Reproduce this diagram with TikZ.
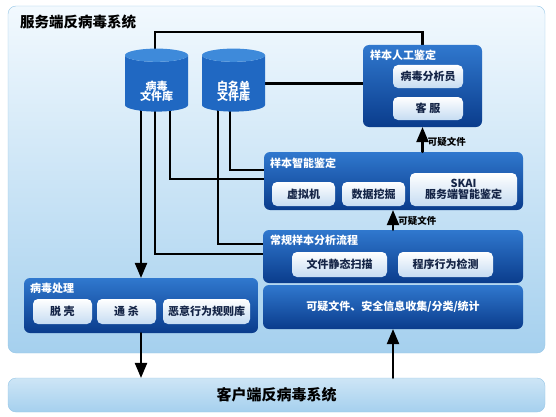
\documentclass[tikz,border=0pt]{standalone}
\usepackage{fontspec}
\setmainfont{Noto Sans CJK SC}
\usepackage{tikz}
\usetikzlibrary{shapes,arrows}
\pgfdeclarelayer{bg}
\pgfdeclarelayer{lines}
\pgfsetlayers{bg,lines,main}
\definecolor{srvtop}{RGB}{242,249,254}
\definecolor{srvbot}{RGB}{165,208,238}
\definecolor{srvline}{RGB}{150,198,230}
\definecolor{boxtop}{RGB}{48,120,206}
\definecolor{boxbot}{RGB}{10,60,140}
\definecolor{itembot}{RGB}{198,220,242}
\definecolor{itemtext}{RGB}{20,36,70}
\definecolor{cylbody}{RGB}{32,104,194}
\definecolor{cylend}{RGB}{62,138,218}
\begin{document}
\begin{tikzpicture}[line cap=round,line join=round,>=triangle 45,x=1pt,y=1pt,
	panel/.style={rounded corners=6pt,top color=boxtop,bottom color=boxbot,inner sep=0pt,text=white,font=\fontsize{11}{13}\selectfont\bfseries},
	item/.style={rounded corners=5pt,top color=white,bottom color=itembot,text=itemtext,inner sep=0pt,align=center,font=\fontsize{11}{13}\selectfont\bfseries},
	head/.style={anchor=west,inner sep=0pt,text=white,font=\fontsize{11}{13}\selectfont\bfseries},
	db/.style={cylinder,shape border rotate=90,aspect=0.4,minimum width=63pt,minimum height=63pt,inner sep=0pt,cylinder uses custom fill,cylinder body fill=cylbody,cylinder end fill=cylend,text=white,font=\fontsize{11}{12}\selectfont\bfseries},
	link/.style={line width=2.5pt,color=black},
	flow/.style={line width=2.5pt,color=black,->},
	tag/.style={anchor=west,inner sep=1pt,xshift=3pt,font=\fontsize{9.5}{11}\selectfont\bfseries}]
	\useasboundingbox (0,0) rectangle (556,416);
	% server side
	\begin{pgfonlayer}{bg}
	\node[rounded corners=8pt,draw=srvline,top color=srvtop,bottom color=srvbot,minimum width=537pt,minimum height=347pt] (server) at (276.5,236.5) {};
	\end{pgfonlayer}
	\node[anchor=west,inner sep=0pt,font=\fontsize{14.5}{16}\selectfont\bfseries] (srvtitle) at (20,394) {服务端反病毒系统};
	\node[db] (virdb) at (156.5,332.5) {\raisebox{-12pt}[0pt][0pt]{\begin{tabular}{@{}c@{}}病毒\\[-3pt]文件库\end{tabular}}};
	\node[db] (whitedb) at (233.5,332.5) {\raisebox{-12pt}[0pt][0pt]{\begin{tabular}{@{}c@{}}白名单\\[-3pt]文件库\end{tabular}}};
	% manual check
	\node[panel,minimum width=119pt,minimum height=82pt] (rengong) at (422.5,330) {};
	\node[head] (rengongt) at (370,361) {样本人工鉴定};
	\node[item,minimum width=70pt,minimum height=23pt] (fenxi) at (428,339.5) {病毒分析员};
	\node[item,minimum width=70pt,minimum height=23pt] (kefu) at (428,307.5) {客\ 服};
	% smart check
	\node[panel,minimum width=259pt,minimum height=58pt] (zhineng) at (393.5,235) {};
	\node[head] (zhinengt) at (270,253) {样本智能鉴定};
	\node[item,minimum width=63pt,minimum height=24pt] (xuni) at (303.5,222) {虚拟机};
	\node[item,minimum width=63pt,minimum height=24pt] (wajue) at (373.5,222) {数据挖掘};
	\node[item,minimum width=107pt,minimum height=33pt] (skai) at (463.5,226.5) {SKAI\\[-2pt]服务端智能鉴定};
	% routine analysis
	\node[panel,minimum width=260pt,minimum height=53pt] (changgui) at (393,159.5) {};
	\node[head] (changguit) at (270,176) {常规样本分析流程};
	\node[item,minimum width=95pt,minimum height=25pt] (jingtai) at (339.5,151.5) {文件静态扫描};
	\node[item,minimum width=95pt,minimum height=25pt] (xingwei) at (445.5,151.5) {程序行为检测};
	\node[panel,minimum width=260pt,minimum height=44pt] (shouji) at (393,109) {可疑文件、安全信息收集/分类/统计};
	% virus handling
	\node[panel,minimum width=234pt,minimum height=55pt] (chuli) at (141,110.5) {};
	\node[head] (chulit) at (30,128) {病毒处理};
	\node[item,minimum width=59pt,minimum height=25pt] (tuoke) at (62.5,104.5) {脱\ 壳};
	\node[item,minimum width=59pt,minimum height=25pt] (tongsha) at (126.5,104.5) {通\ 杀};
	\node[item,minimum width=87pt,minimum height=25pt] (guize) at (206.5,104.5) {恶意行为规则库};
	% client side
	\node[rounded corners=8pt,draw=srvline,top color=srvbot!55,middle color=srvtop,bottom color=srvbot,minimum width=537pt,minimum height=34pt,font=\fontsize{15}{17}\selectfont\bfseries] (client) at (276.5,21) {客户端反病毒系统};
	% connectors
	\begin{pgfonlayer}{lines}
	\draw[link] ([xshift=-1.5pt]virdb.center) -- ++(0,51.5) -| (rengong.north);
	\draw[link] (whitedb.center) -- (whitedb.center -| rengong.west);
	\draw[link] ([xshift=-1.5pt]virdb.center) |- ([yshift=2.5pt]changgui.west);
	\draw[link] ([xshift=13.5pt]virdb.center) |- ([yshift=2pt]zhineng.west);
	\draw[link] ([xshift=-15.5pt]whitedb.center) |- ([yshift=12.5pt]changgui.west);
	\draw[link] ([xshift=-3.5pt]whitedb.center) |- ([yshift=11pt]zhineng.west);
	\draw[flow] (virdb.center -| chuli.north) -- (chuli.north);
	\end{pgfonlayer}
	\draw[flow] (chuli.south) -- (chuli.south |- client.north);
	\draw[flow] (shouji.south |- client.north) -- (shouji.south);
	\draw[flow] (changgui.north) -- (changgui.north |- zhineng.south) node[tag,pos=0.45] (tag1) {可疑文件};
	\draw[flow] (zhineng.north -| rengong.south) -- (rengong.south) node[tag,pos=0.4] (tag2) {可疑文件};
\end{tikzpicture}
\end{document}
